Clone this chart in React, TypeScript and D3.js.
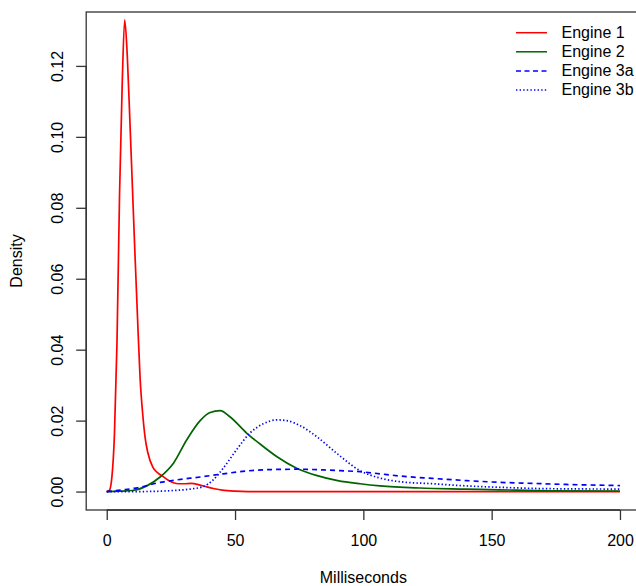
import { useEffect, useRef } from 'react';
import * as d3 from 'd3';

// Engine 1
const msEngine1 = [0, 1, 2, 3, 4, 5, 6, 7, 8, 9, 10, 11, 12, 13, 14, 15, 16, 18, 20, 22, 24, 26, 28, 30, 33, 36, 39, 42, 45, 50, 55, 80, 120, 160, 200];
const densEngine1 = [0, 0.0003, 0.004, 0.016, 0.042, 0.084, 0.114, 0.133, 0.123, 0.105, 0.086, 0.067, 0.049, 0.032, 0.022, 0.015, 0.011, 0.0068, 0.0052, 0.0042, 0.0032, 0.0025, 0.0022, 0.0022, 0.0023, 0.0019, 0.0013, 0.0008, 0.0004, 0.0001, 0, 0, 0, 0, 0];

// Engine 2
const msEngine2 = [0, 5, 10, 15.6, 20.8, 26, 31.2, 36.4, 40.3, 44.2, 48, 54.5, 61, 66.2, 74, 82, 90, 98.7, 106.5, 122, 140, 153, 173, 200];
const densEngine2 = [0, 0.0001, 0.0003, 0.0016, 0.0041, 0.008, 0.0146, 0.02, 0.0223, 0.0228, 0.0211, 0.0165, 0.0127, 0.0099, 0.0066, 0.0045, 0.0031, 0.0022, 0.0016, 0.001, 0.0007, 0.0005, 0.0002, 0.0001];

// Engine 3a
const msEngine3a = [0, 6.5, 13, 19.5, 27.3, 36.4, 45.4, 54.5, 63.6, 74, 84.4, 91, 98.7, 106.5, 114, 127, 140, 153, 166, 179, 200];
const densEngine3a = [0, 0.0005, 0.0012, 0.0024, 0.0033, 0.0041, 0.005, 0.0058, 0.0062, 0.0063, 0.0061, 0.0059, 0.0056, 0.005, 0.0044, 0.0037, 0.0031, 0.0026, 0.0023, 0.002, 0.0017];

// Engine 3b
const msEngine3b = [0, 13, 26, 32.5, 37.6, 41.5, 45.4, 50.6, 55.8, 61, 66.2, 70.1, 75.3, 81.8, 89.6, 98.7, 106.5, 114, 127, 140, 153, 173, 200];
const densEngine3b = [0, 0, 0.0003, 0.0007, 0.0014, 0.0033, 0.0066, 0.0118, 0.0165, 0.0191, 0.0202, 0.02, 0.0186, 0.0155, 0.0108, 0.0059, 0.0038, 0.0028, 0.0022, 0.0016, 0.0012, 0.0008, 0.0007];

const xTicks = [0, 50, 100, 150, 200];
const yTicks = [0, 0.02, 0.04, 0.06, 0.08, 0.1, 0.12];

const seriesNames = ['Engine 1', 'Engine 2', 'Engine 3a', 'Engine 3b'];
const seriesColors = ['#ff0000', '#006400', '#0000ff', '#0000ff'];

const App = () => {
  const svgRef = useRef<SVGSVGElement>(null);

  useEffect(() => {
    const svg = d3.select(svgRef.current);
    svg.selectAll('*').remove();

    const font = '"Liberation Sans", Arial, Helvetica, sans-serif';
    const fs = '16px';

    // scales (R style: 4% padding on each side)
    const x = d3.scaleLinear().domain([-8, 208]).range([86.2, 640.5]);
    const y = d3.scaleLinear().domain([-0.0052, 0.1352]).range([510, 12]);

    const series = [
      { ms: msEngine1, dens: densEngine1 },
      { ms: msEngine2, dens: densEngine2 },
      { ms: msEngine3a, dens: densEngine3a },
      { ms: msEngine3b, dens: densEngine3b },
    ];

    const line = d3.line<[number, number]>()
      .x(d => x(d[0]))
      .y(d => y(d[1]))
      .curve(d3.curveMonotoneX);

    const dashes = ['none', 'none', '5,4', '1.4,2.2'];
    series.forEach((s, i) => {
      const pts = s.ms.map((m, j) => [m, s.dens[j]] as [number, number]);
      svg.append('path')
        .datum(pts)
        .attr('fill', 'none')
        .attr('stroke', seriesColors[i])
        .attr('stroke-width', 1.7)
        .attr('stroke-dasharray', dashes[i])
        .attr('d', line);
    });

    // box
    svg.append('rect')
      .attr('x', x(-8))
      .attr('y', y(0.1352))
      .attr('width', x(208) - x(-8))
      .attr('height', y(-0.0052) - y(0.1352))
      .attr('fill', 'none')
      .attr('stroke', '#333')
      .attr('stroke-width', 1.3);

    // x axis
    const xAxis = svg.append('g')
      .attr('transform', `translate(0,${y(-0.0052)})`)
      .call(d3.axisBottom(x).tickValues(xTicks).tickSize(10).tickFormat(d => String(d)));
    xAxis.select('.domain').attr('d', `M${x(0)},0H${x(200)}`).attr('stroke', '#333').attr('stroke-width', 1.3);
    xAxis.selectAll('.tick line').attr('stroke', '#333').attr('stroke-width', 1.3);
    xAxis.selectAll('.tick text')
      .attr('y', 36)
      .attr('dy', null)
      .style('font-family', font)
      .style('font-size', fs)
      .attr('fill', '#000');

    // y axis
    const yAxis = svg.append('g')
      .attr('transform', `translate(${x(-8)},0)`)
      .call(d3.axisLeft(y).tickValues(yTicks).tickSize(10).tickFormat(d3.format('.2f')));
    yAxis.select('.domain').attr('d', `M0,${y(0)}V${y(0.12)}`).attr('stroke', '#333').attr('stroke-width', 1.3);
    yAxis.selectAll('.tick line').attr('stroke', '#333').attr('stroke-width', 1.3);
    yAxis.selectAll('.tick text')
      .attr('x', null)
      .attr('dy', null)
      .attr('transform', 'translate(-22.7,0) rotate(-90)')
      .attr('text-anchor', 'middle')
      .style('font-family', font)
      .style('font-size', fs)
      .attr('fill', '#000');

    // axis titles
    svg.append('text')
      .attr('x', (x(-8) + x(208)) / 2)
      .attr('y', 583)
      .attr('text-anchor', 'middle')
      .style('font-family', font)
      .style('font-size', fs)
      .text('Milliseconds');

    svg.append('text')
      .attr('transform', `translate(21.5,${(y(-0.0052) + y(0.1352)) / 2}) rotate(-90)`)
      .attr('text-anchor', 'middle')
      .style('font-family', font)
      .style('font-size', fs)
      .text('Density');

    // legend
    const legendDash = ['none', 'none', '5,3.5', '1.4,2.2'];
    const legend = svg.selectAll('.legend')
      .data(seriesNames)
      .enter().append('g')
      .attr('class', 'legend')
      .attr('transform', (d, i) => `translate(0,${32.7 + i * 19.1})`);

    legend.append('line')
      .attr('x1', 516)
      .attr('x2', 547)
      .attr('stroke', (d, i) => seriesColors[i])
      .attr('stroke-width', 1.5)
      .attr('stroke-dasharray', (d, i) => legendDash[i]);

    legend.append('text')
      .attr('x', 561.5)
      .attr('y', 5.3)
      .style('font-family', font)
      .style('font-size', fs)
      .text(d => d);
  }, []);

  return (
    <svg
      ref={svgRef}
      width={636}
      height={586}
      style={{ position: 'absolute', left: 0, top: 0, background: '#fff' }}
    />
  );
};

export default App;
